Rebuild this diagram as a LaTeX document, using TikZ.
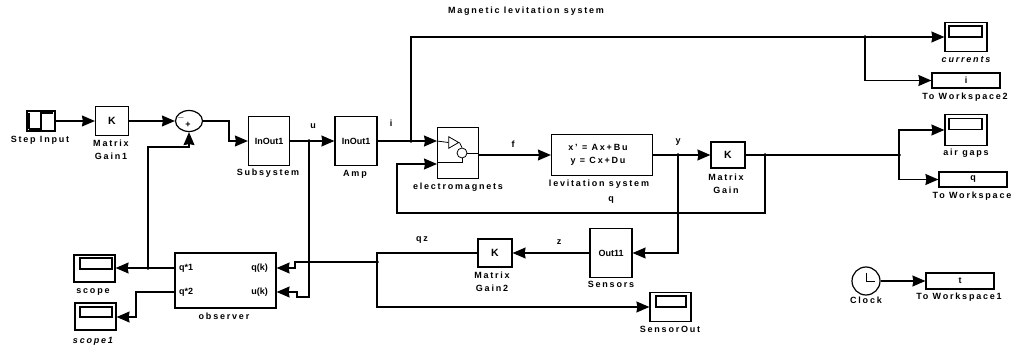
\documentclass[tikz,border=0pt]{standalone}
\usepackage{fontspec}
\setmainfont[LetterSpace=20]{Liberation Sans}
\newfontfamily\tightfont{Liberation Sans}
\usetikzlibrary{arrows.meta, positioning, shapes.geometric, calc}

\tikzset{
  arr/.style={-{Stealth[length=13pt,width=11pt,inset=1pt]},line width=1.2pt},
  lin/.style={line width=1.2pt},
  blk/.style={draw,line width=1.2pt,inner sep=0pt,font=\tightfont\fontsize{9}{9}\selectfont\bfseries},
  gainblk/.style={blk,font=\tightfont\fontsize{10.5}{10}\selectfont\bfseries},
  txt/.style={inner sep=0pt,align=center,font=\fontsize{9}{13}\selectfont\bfseries},
  txtit/.style={txt,font=\fontsize{9}{10}\selectfont\bfseries\itshape},
  port/.style={inner sep=0pt,font=\tightfont\fontsize{9}{9}\selectfont\bfseries},
  junc/.style={circle,draw=black,fill=black,inner sep=0pt,minimum size=3pt}
}

\begin{document}
\begin{tikzpicture}[x=1pt,y=-1pt]
  \useasboundingbox (0,0) rectangle (1017,347);

  \node[txt] (title) at (526,11) {Magnetic levitation system};

  % source and first row
  \node[blk,minimum width=28pt,minimum height=20pt] (step) at (41,121) {};
  \node[txt] (steplbl) at (40,140) {Step Input};
  \draw[lin] (29,129) -- (41,129) -- (41,113) -- (53,113);
  \draw[lin] (29,113) -- (29,129);
  \node[gainblk,minimum width=33pt,minimum height=29pt] (gain1) at (112,121) {K};
  \node[txt] (gain1lbl) at (111,150) {Matrix\\Gain1};
  \node[draw,ellipse,line width=1.2pt,minimum width=27pt,minimum height=21pt,inner sep=0pt] (sum) at (189,121) {};
  \node[port] (summinus) at (181,118) {$-$};
  \node[port] (sumplus) at (188,125) {+};
  \node[blk,minimum width=41pt,minimum height=49pt] (subsys) at (269,141) {InOut1};
  \node[txt] (subsyslbl) at (268,173) {Subsystem};
  \node[blk,minimum width=42pt,minimum height=49pt] (amp) at (356,141) {InOut1};
  \node[txt] (amplbl) at (355,174) {Amp};
  \node[blk,minimum width=41pt,minimum height=51pt] (magnets) at (458,153) {};
  \node[txt] (magnetslbl) at (458,187) {electromagnets};
  \node[blk,minimum width=101pt,minimum height=41pt,align=center] (lev) at (602,155) {};
  \node[txt] (levtxt) at (598,154.5) {x' = Ax+Bu\\y = Cx+Du};
  \node[txt] (levlbl) at (599,184) {levitation system};
  \node[gainblk,minimum width=34pt,minimum height=26pt] (gain) at (728,155) {K};
  \node[txt] (gainlbl) at (726,184) {Matrix\\Gain};

  % inside of electromagnets
  \node[draw,isosceles triangle,isosceles triangle apex angle=60,line width=.8pt,minimum height=10pt,minimum width=9pt,inner sep=0pt] (tri) at (452,142.5) {};
  \node[draw,circle,line width=.8pt,minimum size=10pt,inner sep=0pt] (ring) at (462,153) {};
  \coordinate (magin1) at (437,141);
  \coordinate (magin2) at (437,164);
  \coordinate (magline) at (437,162);
  \draw[lin,line width=.8pt] (magin1) -- (tri.west);
  \draw[lin,line width=.8pt] (tri.east) -- (ring.north);
  \draw[lin,line width=.8pt] (magline) -| (ring.south);
  \draw[lin,line width=.8pt] (ring.east) -- (magnets.east |- ring.east);

  % sinks on the right
  \node[blk,minimum width=42pt,minimum height=29pt] (currents) at (966,37) {};
  \node[blk,minimum width=33pt,minimum height=11pt] (currentsscr) at (965.5,31.5) {};
  \node[txtit] (currentslbl) at (966,60) {currents};
  \node[blk,minimum width=68pt,minimum height=15pt] (wks2) at (966,80.5) {i};
  \node[txt] (wks2lbl) at (965,97) {To Workspace2};
  \node[blk,minimum width=42pt,minimum height=31pt] (airgaps) at (966,130) {};
  \node[blk,minimum width=33pt,minimum height=11pt] (airgapsscr) at (965.5,124) {};
  \node[txt] (airgapslbl) at (966,153) {air gaps};
  \node[blk,minimum width=68pt,minimum height=15pt] (wks) at (973,179.5) {q};
  \node[txt] (wkslbl) at (972,196) {To Workspace};
  \node[draw,circle,line width=1.2pt,minimum size=28pt,inner sep=0pt] (clock) at (866,281) {};
  \node[txt] (clocklbl) at (866,300) {Clock};
  \draw[lin,line width=.8pt] (866,273) -- (866,281) -- (875,281);
  \node[blk,minimum width=68pt,minimum height=16pt] (wks1) at (960,281) {t};
  \node[txt] (wks1lbl) at (959,297) {To Workspace1};

  % lower row
  \node[blk,minimum width=42pt,minimum height=49pt] (sensors) at (611,253) {Out11};
  \node[txt] (sensorslbl) at (611,284) {Sensors};
  \node[gainblk,minimum width=34pt,minimum height=28pt] (gain2) at (495,253) {K};
  \node[txt] (gain2lbl) at (492,281.5) {Matrix\\Gain2};
  \node[blk,minimum width=41pt,minimum height=29pt] (sensorout) at (670.5,307) {};
  \node[blk,minimum width=30pt,minimum height=11pt] (sensorscr) at (671,301.5) {};
  \node[txt] (sensoroutlbl) at (670,329) {SensorOut};
  \node[blk,minimum width=101pt,minimum height=55pt] (obs) at (225.5,280.5) {};
  \node[txt] (obslbl) at (224,316) {observer};
  \node[port,anchor=west] (obsq1) at (179,268) {q*1};
  \node[port,anchor=west] (obsq2) at (179,292) {q*2};
  \node[port,anchor=east] (obsqk) at (268,268) {q(k)};
  \node[port,anchor=east] (obsuk) at (268,292) {u(k)};
  \node[blk,minimum width=41pt,minimum height=27pt] (scope) at (94.5,268.5) {};
  \node[blk,minimum width=32pt,minimum height=11pt] (scopescr) at (96,263.5) {};
  \node[txt] (scopelbl) at (93,292) {scope};
  \node[blk,minimum width=41pt,minimum height=27pt] (scopea) at (95.5,316.5) {};
  \node[blk,minimum width=32pt,minimum height=10pt] (scopeascr) at (96,312) {};
  \node[txtit] (scopealbl) at (93,341) {scope1};

  % signal labels
  \node[txt] (ulbl) at (313,126) {u};
  \node[txt] (ilbl) at (391,123) {i};
  \node[txt] (flbl) at (513,144) {f};
  \node[txt] (ylbl) at (678,142) {y};
  \node[txt] (qlbl) at (611,200) {q};
  \node[txt] (qzlbl) at (422,240) {qz};
  \node[txt] (zlbl) at (559,242) {z};

  % branch points
  \node[junc] (ju) at (309,141) {};
  \node[junc] (ji) at (411,141) {};
  \node[junc] (jy) at (678,155) {};
  \node[junc] (jq) at (765,155) {};
  \node[junc] (jgap) at (899,155) {};
  \node[junc] (jcur) at (865,37) {};
  \node[junc] (jqz) at (377,262) {};
  \node[junc] (jfb) at (148,268) {};
  \coordinate (jscope) at (136,317);

  % connectors
  \draw[arr] (step) -- (gain1);
  \draw[arr] (gain1) -- (sum);
  \draw[arr] (sum.east) -- (229,121) |- (subsys.west);
  \draw[lin] (subsys) -- (ju.center);
  \draw[arr] (ju.center) -- (amp);
  \draw[lin] (amp) -- (ji.center);
  \draw[arr] (ji.center) -- (magin1);
  \draw[lin] (ji.center) |- (jcur.center);
  \draw[arr] (jcur.center) -- (currents.west |- jcur);
  \draw[arr] (jcur.center) |- (wks2.west);
  \draw[arr] (magnets.east |- lev) -- (lev.west);
  \draw[lin] (lev.east) -- (jy.center);
  \draw[arr] (jy.center) -- (gain.west);
  \draw[lin] (gain.east) -- (jq.center);
  \draw[lin] (jq.center) -- (jgap.center);
  \draw[arr] (jgap.center) |- (airgaps.west);
  \draw[arr] (jgap.center) |- (wks.west);
  \draw[arr] (jq.center) |- (397,213) |- (magin2);
  \draw[arr] (jy.center) |- (sensors.east);
  \draw[arr] (sensors.west) -- (gain2.east);
  \draw[lin] (gain2.west) -| (jqz.center);
  \draw[arr] (jqz.center) |- (sensorout.west);
  \draw[arr] (jqz.center) -- (295,262) |- (obs.east |- obsqk);
  \draw[arr] (ju.center) |- (297,297) |- (obs.east |- obsuk);
  \draw[arr] (obs.west |- obsq1) -- (scope.east |- obsq1);
  \draw[arr] (jfb.center) |- (148,147) -| (sum.south);
  \draw[arr] (obs.west |- obsq2) -| (jscope) -- (scopea.east |- jscope);
  \draw[arr] (clock) -- (wks1.west);
\end{tikzpicture}
\end{document}
